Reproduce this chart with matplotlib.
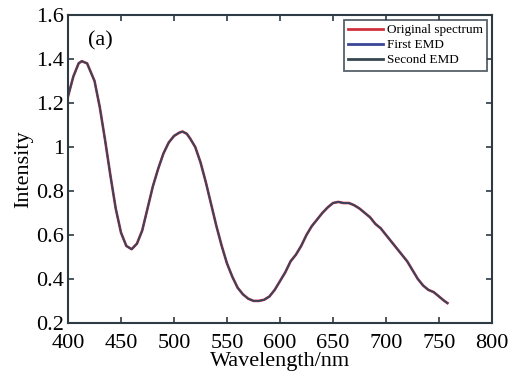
import numpy as np
import matplotlib
matplotlib.use("Agg")
import matplotlib.pyplot as plt
from matplotlib.ticker import FuncFormatter

# spectrum
wavelength = [400, 405, 410, 413, 418, 425, 430, 435, 440, 445, 450, 455, 460, 465,
              470, 475, 480, 485, 490, 495, 500, 505, 508, 512, 515, 520, 525, 530,
              535, 540, 545, 550, 555, 560, 565, 570, 575, 580, 585, 590, 595, 600,
              605, 610, 615, 620, 625, 630, 635, 640, 645, 650, 655, 660, 665, 670,
              675, 680, 685, 690, 695, 700, 705, 710, 715, 720, 725, 730, 735, 740,
              745, 750, 755, 758]
original = [1.23, 1.32, 1.38, 1.39, 1.38, 1.30, 1.18, 1.03, 0.87, 0.72, 0.61, 0.55, 0.535, 0.56,
            0.62, 0.72, 0.82, 0.90, 0.97, 1.02, 1.05, 1.065, 1.07, 1.06, 1.04, 1.00, 0.93, 0.84,
            0.74, 0.64, 0.55, 0.47, 0.41, 0.36, 0.33, 0.31, 0.30, 0.30, 0.305, 0.32, 0.35, 0.39,
            0.43, 0.48, 0.51, 0.55, 0.60, 0.64, 0.67, 0.70, 0.725, 0.745, 0.75, 0.745, 0.745, 0.735,
            0.72, 0.70, 0.68, 0.65, 0.63, 0.60, 0.57, 0.54, 0.51, 0.48, 0.44, 0.40, 0.37, 0.35,
            0.34, 0.32, 0.30, 0.29]
first_emd = original
second_emd = original

plt.rcParams['font.family'] = ['Liberation Serif', 'DejaVu Serif']
axis_col = '#2e3a44'

fig = plt.figure(figsize=(5.13, 3.75), dpi=100)
ax = fig.add_axes([0.1326, 0.139, 0.8264, 0.821])

ax.plot(wavelength, original, color='#d0303c', lw=1.9, label='Original spectrum')
ax.plot(wavelength, first_emd, color='#3a4596', lw=1.2, label='First EMD')
ax.plot(wavelength, second_emd, color='#37474f', lw=1.0, label='Second EMD')

ax.set_xlim(400, 800)
ax.set_ylim(0.2, 1.6)
ax.set_xticks(np.arange(400, 801, 50))
ax.set_yticks(np.arange(0.2, 1.61, 0.2))
ax.yaxis.set_major_formatter(FuncFormatter(lambda v, p: '{:g}'.format(round(v, 1))))

ax.tick_params(direction='in', top=True, right=True, length=4, width=1.2,
               labelsize=16, colors=axis_col, labelcolor='black')
ax.tick_params(axis='x', pad=8)
ax.tick_params(axis='y', pad=3)
for s in ax.spines.values():
    s.set_color(axis_col)
    s.set_linewidth(1.5)

ax.set_xlabel('Wavelength/nm', fontsize=16, labelpad=-1)
ax.set_ylabel('Intensity', fontsize=16, labelpad=2)
ax.text(0.047, 0.9, '(a)', transform=ax.transAxes, fontsize=16)

leg = ax.legend(loc='upper right', fontsize=9.5, frameon=True, fancybox=False,
                borderaxespad=0.35, handlelength=2.6, handletextpad=0.3,
                labelspacing=0.2, borderpad=0.35)
leg.get_frame().set_edgecolor(axis_col)
leg.get_frame().set_linewidth(1.3)
for h in leg.get_lines():
    h.set_linewidth(2)

fig.savefig('out.png', dpi=100)
